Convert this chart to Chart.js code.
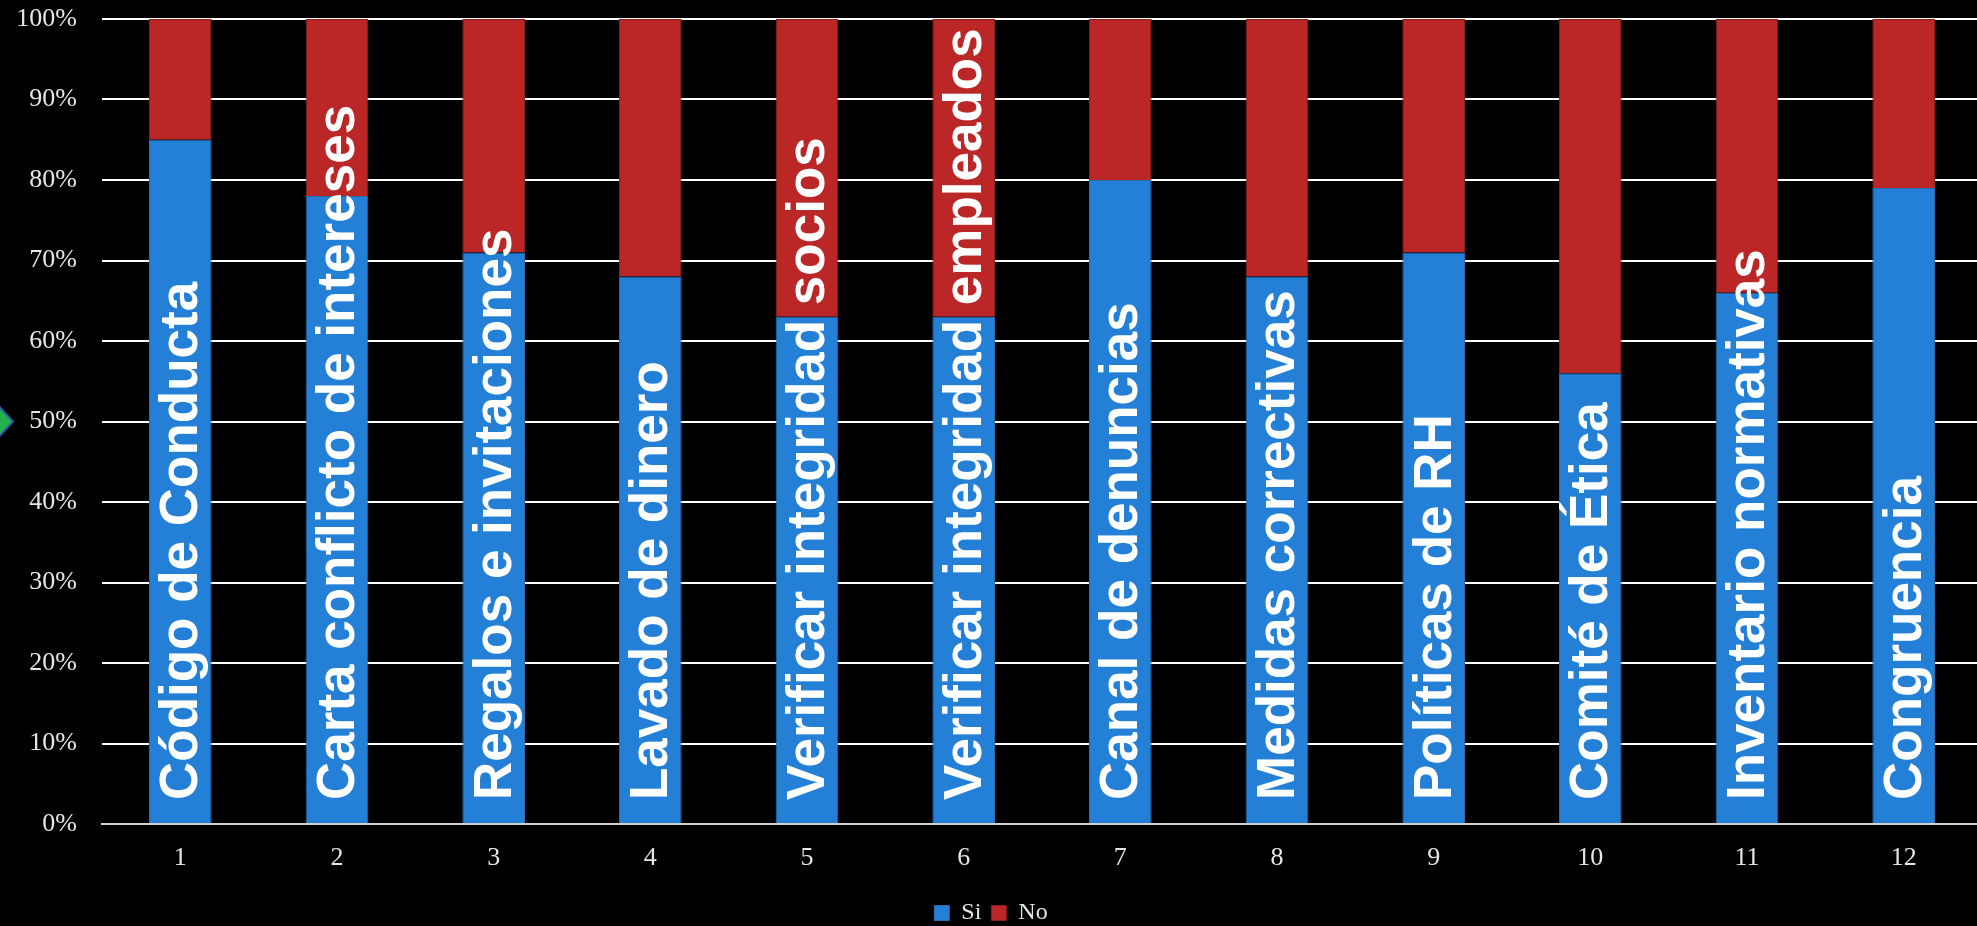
<!DOCTYPE html>
<html>
<head>
<meta charset="utf-8">
<script src="https://cdn.jsdelivr.net/npm/chart.js@4.4.1/dist/chart.umd.min.js"></script>
<style>
  html, body { margin: 0; padding: 0; background: #000; overflow: hidden; }
  #wrap { width: 1982px; height: 926px; }
</style>
</head>
<body>
<div id="wrap"><canvas id="chart"></canvas></div>
<script>
var categories = ['1', '2', '3', '4', '5', '6', '7', '8', '9', '10', '11', '12'];
var barNames = ['Código de Conducta', 'Carta conflicto de intereses', 'Regalos e invitaciones',
    'Lavado de dinero', 'Verificar integridad socios', 'Verificar integridad empleados',
    'Canal de denuncias', 'Medidas correctivas', 'Políticas de RH', 'Comité de Ética',
    'Inventario normativas', 'Congruencia'];
var siValues = [85, 78, 71, 68, 63, 63, 80, 68, 71, 56, 66, 79];
var noValues = [15, 22, 29, 32, 37, 37, 20, 32, 29, 44, 34, 21];
var yTicks = [0, 10, 20, 30, 40, 50, 60, 70, 80, 90, 100];

var serif = '"Liberation Serif", "DejaVu Serif", serif';

// writes the topic name up each bar
var barTextPlugin = {
    id: 'barText',
    afterDatasetsDraw: function(chart) {
        var ctx = chart.ctx;
        var meta = chart.getDatasetMeta(0);
        var y0 = chart.scales.y.getPixelForValue(0);
        ctx.save();
        ctx.fillStyle = '#ffffff';
        ctx.font = 'bold 53px "Liberation Sans", Arial, sans-serif';
        ctx.textAlign = 'left';
        ctx.textBaseline = 'alphabetic';
        meta.data.forEach(function(bar, i) {
            ctx.save();
            ctx.translate(bar.x + 17, y0 - 24);
            ctx.rotate(-Math.PI / 2);
            ctx.fillText(barNames[i], 0, 0);
            ctx.restore();
        });
        ctx.restore();
    },
    afterDraw: function(chart) {
        // small marker sticking in from the left edge
        var ctx = chart.ctx;
        var y = chart.scales.y.getPixelForValue(50);
        ctx.save();
        ctx.beginPath();
        ctx.moveTo(-14, y);
        ctx.lineTo(0, y - 14);
        ctx.lineTo(13, y);
        ctx.lineTo(0, y + 14);
        ctx.closePath();
        ctx.fillStyle = '#22b14c';
        ctx.fill();
        ctx.lineWidth = 2;
        ctx.strokeStyle = '#2a5db0';
        ctx.stroke();
        ctx.restore();
    }
};

new Chart(document.getElementById('chart'), {
    type: 'bar',
    data: {
        labels: categories,
        datasets: [{
            label: 'Si',
            data: siValues,
            backgroundColor: '#2480d6',
            borderColor: '#2a6bb0',
            borderWidth: 1,
            barPercentage: 0.4,
            categoryPercentage: 1
        }, {
            label: 'No',
            data: noValues,
            backgroundColor: '#bb2727',
            borderColor: '#8c1e1e',
            borderWidth: 1,
            barPercentage: 0.4,
            categoryPercentage: 1
        }]
    },
    options: {
        responsive: true,
        maintainAspectRatio: false,
        animation: false,
        layout: { padding: { top: 0, left: 0, right: 0, bottom: -9 } },
        plugins: {
            legend: {
                position: 'bottom',
                labels: {
                    color: '#e6e6e6',
                    font: { family: serif, size: 24 },
                    boxWidth: 15,
                    boxHeight: 15,
                    padding: 10
                }
            },
            tooltip: { enabled: false }
        },
        scales: {
            x: {
                stacked: true,
                grid: { display: false, drawTicks: false },
                border: { display: true, color: '#d0d0d0', width: 2 },
                ticks: {
                    color: '#e6e6e6',
                    font: { family: serif, size: 26 },
                    padding: 19,
                    maxRotation: 0
                },
                afterFit: function(scale) {
                    scale.height = 67;
                    scale.paddingLeft = 0;
                    scale.paddingRight = 0;
                }
            },
            y: {
                stacked: true,
                min: 0,
                max: 100,
                afterBuildTicks: function(axis) {
                    axis.ticks = yTicks.map(function(v) { return { value: v }; });
                },
                grid: { color: '#ffffff', lineWidth: 2, drawTicks: false },
                border: { display: false },
                ticks: {
                    color: '#e6e6e6',
                    font: { family: serif, size: 26 },
                    padding: 25,
                    callback: function(v) { return v + '%'; }
                },
                afterFit: function(scale) {
                    scale.width = 102;
                    scale.paddingTop = 19;
                    scale.paddingBottom = 0;
                }
            }
        }
    },
    plugins: [barTextPlugin]
});
</script>
</body>
</html>
